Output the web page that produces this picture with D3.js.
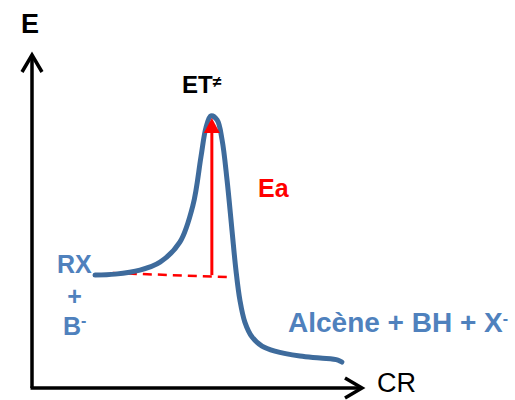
<!DOCTYPE html>
<html>
<head>
<meta charset="utf-8">
<script src="https://d3js.org/d3.v7.min.js"></script>
<style>
  body { margin: 0; background: #ffffff; }
  text { font-family: "Liberation Sans", Arial, sans-serif; }
</style>
</head>
<body>
<div id="chart"></div>
<script>
// Reaction coordinate (CR) of each point on the energy profile, 0..100
var coord = [19.1, 25.2, 32.7, 38.8, 44.8, 48.8, 51.2, 52.7, 54.2, 56.1, 57.6, 59.1,
             60.6, 61.8, 63.0, 64.5, 66.7, 69.7, 73.6, 81.2, 87.3, 92.7, 93.9];
// Energy (E) at each point, 0..100
var energy = [33.9, 34.2, 35.4, 37.8, 43.8, 55.0, 69.4, 78.1, 81.7, 80.5, 74.5, 62.5,
              47.4, 35.4, 26.4, 19.8, 15.3, 12.6, 11.1, 9.6, 9.0, 8.4, 7.8];

// Activation energy: reactant level and transition state level
var eaCoord = [54.5, 54.5];
var eaEnergy = [33.9, 81.1];

// Dashed reference line at the reactant level
var refCoord = [24.5, 60.6];
var refEnergy = [34.5, 33.3];

function init(){
    var w = 515;
    var h = 400;

    var blue = "#4f81bd";
    var curveColor = "#3e6b9c";
    var red = "#ff0000";

    var svg = d3.select("#chart")
                .append("svg")
                .attr("width", w)
                .attr("height", h);

    // Scales for the two axes
    var xScale = d3.scaleLinear()
                    .domain([0, 100])
                    .range([32, 362]);

    var yScale = d3.scaleLinear()
                    .domain([0, 100])
                    .range([388, 55]);

    // Axes: plain lines with open arrow heads
    var axisColor = "#000000";
    svg.append("line")
        .attr("x1", xScale(0)).attr("y1", yScale(0))
        .attr("x2", xScale(0)).attr("y2", yScale(100))
        .attr("stroke", axisColor).attr("stroke-width", 3.5);
    svg.append("line")
        .attr("x1", xScale(0) - 1.5).attr("y1", yScale(0))
        .attr("x2", xScale(100)).attr("y2", yScale(0))
        .attr("stroke", axisColor).attr("stroke-width", 3.5);

    svg.append("path")
        .attr("d", "M" + (xScale(0) - 10) + "," + (yScale(100) + 17) +
                   "L" + xScale(0) + "," + yScale(100) +
                   "L" + (xScale(0) + 10) + "," + (yScale(100) + 17))
        .attr("fill", "none")
        .attr("stroke", axisColor)
        .attr("stroke-width", 3.5);
    svg.append("path")
        .attr("d", "M" + (xScale(100) - 17) + "," + (yScale(0) - 10) +
                   "L" + xScale(100) + "," + yScale(0) +
                   "L" + (xScale(100) - 17) + "," + (yScale(0) + 10))
        .attr("fill", "none")
        .attr("stroke", axisColor)
        .attr("stroke-width", 3.5);

    // Dashed line at the reactant level
    var refLine = d3.line()
                    .x(function(d, i){ return xScale(refCoord[i]); })
                    .y(function(d, i){ return yScale(refEnergy[i]); });
    svg.append("path")
        .attr("d", refLine(refCoord))
        .attr("fill", "none")
        .attr("stroke", red)
        .attr("stroke-width", 2.5)
        .attr("stroke-dasharray", "9,6");

    // Energy profile curve
    var profile = d3.line()
                    .x(function(d, i){ return xScale(coord[i]); })
                    .y(function(d, i){ return yScale(energy[i]); })
                    .curve(d3.curveCatmullRom.alpha(0.5));
    svg.append("path")
        .attr("d", profile(coord))
        .attr("fill", "none")
        .attr("stroke", curveColor)
        .attr("stroke-width", 5)
        .attr("stroke-linecap", "round")
        .attr("stroke-linejoin", "round");

    // Activation energy arrow
    var ax = xScale(eaCoord[0]);
    var aBottom = yScale(eaEnergy[0]);
    var aTop = yScale(eaEnergy[1]);
    svg.append("line")
        .attr("x1", ax).attr("y1", aBottom)
        .attr("x2", ax).attr("y2", aTop + 12)
        .attr("stroke", red)
        .attr("stroke-width", 3);
    svg.append("path")
        .attr("d", "M" + ax + "," + aTop + "L" + (ax + 8) + "," + (aTop + 15) +
                   "L" + (ax - 8) + "," + (aTop + 15) + "Z")
        .attr("fill", red);

    // Labels
    svg.append("text")
        .attr("x", 21).attr("y", 33)
        .attr("font-size", 27).attr("font-weight", "bold")
        .attr("fill", "#000000")
        .text("E");

    svg.append("text")
        .attr("x", 377).attr("y", 392)
        .attr("font-size", 27).attr("font-weight", "normal")
        .attr("fill", "#000000")
        .text("CR");

    var et = svg.append("text")
        .attr("x", 182).attr("y", 93)
        .attr("font-size", 24).attr("font-weight", "bold")
        .attr("fill", "#000000");
    et.append("tspan").text("ET");
    et.append("tspan")
        .attr("font-size", 16)
        .attr("dy", -6)
        .text("≠");

    svg.append("text")
        .attr("x", 258).attr("y", 197)
        .attr("font-size", 25).attr("font-weight", "bold")
        .attr("fill", red)
        .text("Ea");

    svg.append("text")
        .attr("x", 57).attr("y", 273)
        .attr("font-size", 25).attr("font-weight", "bold")
        .attr("fill", blue)
        .text("RX");

    svg.append("text")
        .attr("x", 74.5).attr("y", 305)
        .attr("text-anchor", "middle")
        .attr("font-size", 25).attr("font-weight", "bold")
        .attr("fill", blue)
        .text("+");

    var b = svg.append("text")
        .attr("x", 63).attr("y", 335)
        .attr("font-size", 25).attr("font-weight", "bold")
        .attr("fill", blue);
    b.append("tspan").text("B");
    b.append("tspan")
        .attr("font-size", 16)
        .attr("dy", -9)
        .text("-");

    var prod = svg.append("text")
        .attr("x", 288).attr("y", 332)
        .attr("font-size", 28).attr("font-weight", "bold")
        .attr("fill", blue);
    prod.append("tspan").text("Alcène + BH + X");
    prod.append("tspan")
        .attr("font-size", 16)
        .attr("dy", -8)
        .text("-");
}

window.onload = init;
</script>
</body>
</html>
